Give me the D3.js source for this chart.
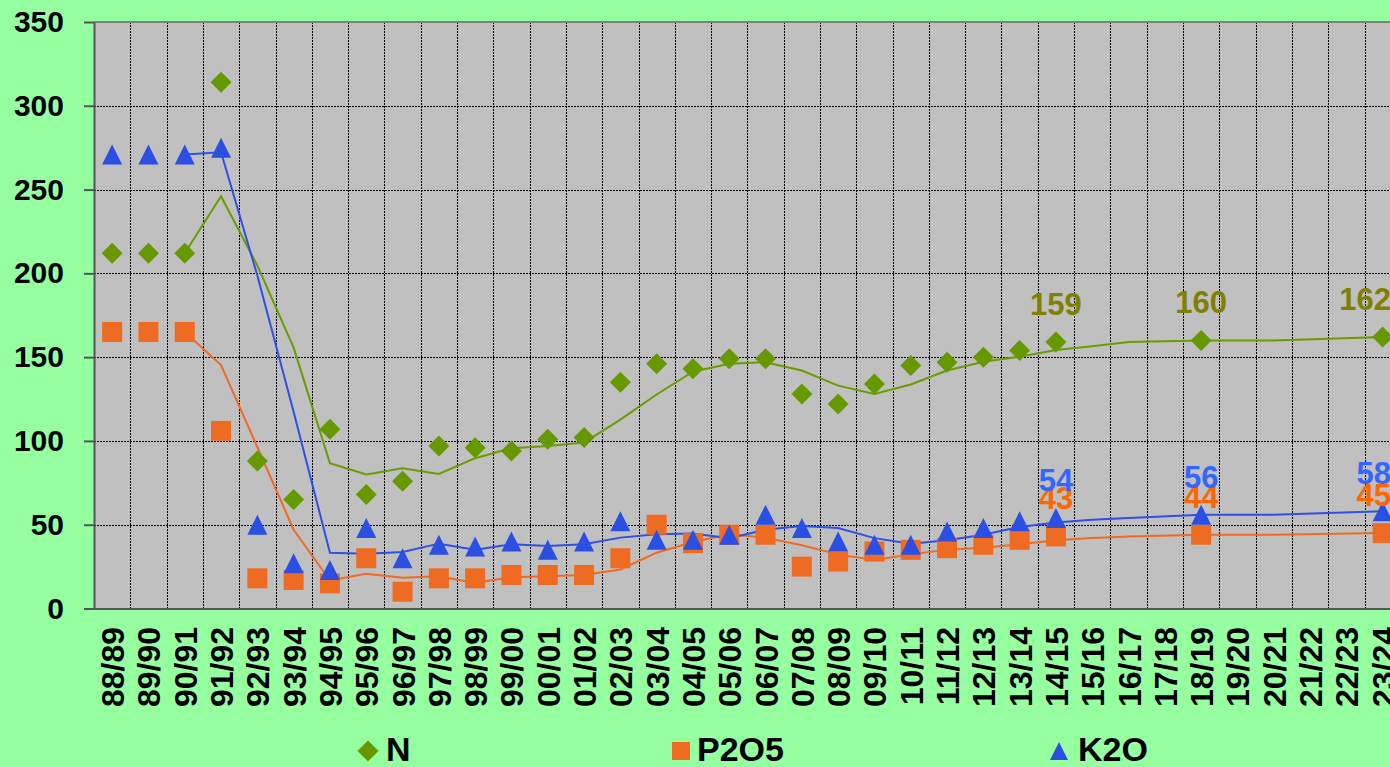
<!DOCTYPE html>
<html>
<head>
<meta charset="utf-8">
<script src="https://cdn.jsdelivr.net/npm/d3@7"></script>
<style>
  body { margin: 0; background: #96ffa0; overflow: hidden; }
  svg { display: block; font-family: "Liberation Sans", Arial, sans-serif; font-weight: bold; }
</style>
</head>
<body>
<div id="chart"></div>
<script>
// categories (seasons)
const categories = ["88/89","89/90","90/91","91/92","92/93","93/94","94/95","95/96","96/97","97/98",
  "98/99","99/00","00/01","01/02","02/03","03/04","04/05","05/06","06/07","07/08","08/09","09/10",
  "10/11","11/12","12/13","13/14","14/15","15/16","16/17","17/18","18/19","19/20","20/21","21/22",
  "22/23","23/24"];

// measured values (null = no marker)
const nValues = [212,212,212,314,88,65,107,68,76,97,96,94,101,102,135,146,143,149,149,128,122,134,
  145,147,150,154,159,null,null,null,160,null,null,null,null,162];
const p2o5Values = [165,165,165,106,18,17,15,30,10,18,18,20,20,20,30,50,39,44,44,25,28,34,
  35,36,38,41,43,null,null,null,44,null,null,null,null,45];
const k2oValues = [271,271,271,275,50,27,23,48,30,38,37,40,35,40,52,41,41,44,56,48,40,38,
  38,46,48,52,54,null,null,null,56,null,null,null,null,58];

// trend lines as they appear in the picture
const nTrend = [null,null,212,246,204.7,155.7,86.7,80,83.7,80.3,89.7,95.7,97,99,112.7,127.7,141.3,146,
  147,142,133,128,133.7,142,147.3,150.3,154.3,156.5,159,null,160,160,160,null,null,162];
const p2o5Trend = [null,null,165,145.3,96.3,47,16.7,20.7,18.3,19.3,15.3,18.7,19.3,20,23.3,33.3,39.7,44.3,
  42.3,37.7,32.3,29,32.3,35,36.3,38.3,40.7,42,43,null,44,44,44,null,null,45];
const k2oTrend = [null,null,271,272.3,198.7,117.3,33.3,32.7,33.7,38.7,35,38.3,37.3,38.3,42.3,44.3,44.7,42,
  47,49.3,48,42,38.7,40.7,44,48.7,51.3,53,54,null,56,56,56,null,null,58];

const yTicks = [0,50,100,150,200,250,300,350];
const labelCats = ["14/15","18/19","23/24"];

const W = 1390, H = 767;
const plot = {left: 94, top: 22, bottom: 608.5, step: 36.3};

const svg = d3.select("#chart").append("svg")
  .attr("width", W).attr("height", H);

const x = d3.scaleBand()
  .domain(categories)
  .range([plot.left, plot.left + plot.step * categories.length]);
const cx = c => x(c) + x.bandwidth() / 2;

const y = d3.scaleLinear()
  .domain([0, 350])
  .range([plot.bottom, plot.top]);

// plot area
svg.append("rect")
  .attr("x", plot.left).attr("y", plot.top)
  .attr("width", x.range()[1] - plot.left)
  .attr("height", plot.bottom - plot.top)
  .attr("fill", "#c0c0c0");

// horizontal grid lines
svg.append("g").selectAll("line")
  .data(yTicks.filter(d => d > 0 && d < 350))
  .join("line")
  .attr("x1", plot.left).attr("x2", x.range()[1])
  .attr("y1", d => Math.round(y(d)) + 0.5).attr("y2", d => Math.round(y(d)) + 0.5)
  .attr("stroke", "#000").attr("stroke-width", 1)
  .attr("stroke-dasharray", "2,1");

// vertical grid lines at category borders
svg.append("g").selectAll("line")
  .data(categories.slice(1))
  .join("line")
  .attr("x1", d => Math.round(x(d)) + 0.5).attr("x2", d => Math.round(x(d)) + 0.5)
  .attr("y1", plot.top).attr("y2", plot.bottom)
  .attr("stroke", "#000").attr("stroke-width", 1)
  .attr("stroke-dasharray", "2,1");

// top border
svg.append("line")
  .attr("x1", plot.left).attr("x2", W)
  .attr("y1", plot.top).attr("y2", plot.top)
  .attr("stroke", "#808080").attr("stroke-width", 2);

// y axis
const yAxis = svg.append("g")
  .attr("transform", `translate(${plot.left},0)`)
  .call(d3.axisLeft(y).tickValues(yTicks).tickSize(10).tickPadding(20).tickSizeOuter(0));
yAxis.select(".domain").attr("stroke", "#555").attr("stroke-width", 2);
yAxis.selectAll(".tick line").attr("stroke", "#555").attr("stroke-width", 2);
yAxis.selectAll(".tick text")
  .attr("fill", "#000")
  .style("font-size", "30px")
  .style("font-weight", "bold")
  .style("font-family", "'Liberation Sans', Arial, sans-serif");

// x axis line
svg.append("line")
  .attr("x1", plot.left - 1).attr("x2", W)
  .attr("y1", plot.bottom + 0.5).attr("y2", plot.bottom + 0.5)
  .attr("stroke", "#555").attr("stroke-width", 2);

// x labels, rotated
svg.append("g").selectAll("text")
  .data(categories)
  .join("text")
  .attr("transform", d => `translate(${cx(d) + 12},627) rotate(-90)`)
  .attr("text-anchor", "end")
  .attr("font-size", 32)
  .attr("fill", "#000")
  .text(d => d);

// trend lines
const series = [
  {name: "N", values: nValues, trend: nTrend, color: "#669900", line: "#6a9c00", label: "#808000", shape: "diamond"},
  {name: "P2O5", values: p2o5Values, trend: p2o5Trend, color: "#ef6b22", line: "#f06a22", label: "#ff6600", shape: "square"},
  {name: "K2O", values: k2oValues, trend: k2oTrend, color: "#2a4fe2", line: "#2e50e6", label: "#3366ff", shape: "triangle"}
];

const line = d3.line()
  .x(d => cx(d.cat))
  .y(d => y(d.v));

series.forEach(s => {
  const pts = categories.map((c, i) => ({cat: c, v: s.trend[i]})).filter(d => d.v != null);
  svg.append("path")
    .datum(pts)
    .attr("fill", "none")
    .attr("stroke", s.line)
    .attr("stroke-width", 2)
    .attr("d", line);
});

// marker shapes
function shapePath(shape, px, py, r) {
  if (shape === "diamond") return `M${px},${py - r}L${px + r},${py}L${px},${py + r}L${px - r},${py}Z`;
  if (shape === "square") return `M${px - r},${py - r}h${2 * r}v${2 * r}h${-2 * r}Z`;
  return `M${px},${py - r}L${px + r},${py + r}L${px - r},${py + r}Z`;
}

series.forEach(s => {
  const pts = categories.map((c, i) => ({cat: c, v: s.values[i]})).filter(d => d.v != null);
  svg.append("g").selectAll("path")
    .data(pts)
    .join("path")
    .attr("d", d => shapePath(s.shape, cx(d.cat), y(d.v), s.shape === "diamond" ? 10.5 : 10))
    .attr("fill", s.color);
});

// data labels
series.forEach(s => {
  labelCats.forEach(c => {
    const v = s.values[categories.indexOf(c)];
    const t = svg.append("text")
      .attr("text-anchor", "middle")
      .attr("font-size", 31)
      .attr("fill", s.label)
      .attr("y", y(v) - 27)
      .text(v);
    const w = t.node().getComputedTextLength();
    t.attr("x", Math.min(cx(c), W + 1 - w / 2));
  });
});

// legend
const legend = [
  {name: "N", shape: "diamond", color: "#669900", mx: 368, tx: 386},
  {name: "P2O5", shape: "square", color: "#ef6b22", mx: 681, tx: 697},
  {name: "K2O", shape: "triangle", color: "#2a4fe2", mx: 1059, tx: 1078}
];
legend.forEach(l => {
  svg.append("path")
    .attr("d", shapePath(l.shape, l.mx, 751, l.shape === "diamond" ? 10.5 : 9))
    .attr("fill", l.color);
  svg.append("text")
    .attr("x", l.tx).attr("y", 761)
    .attr("font-size", 34)
    .attr("fill", "#000")
    .text(l.name);
});
</script>
</body>
</html>
